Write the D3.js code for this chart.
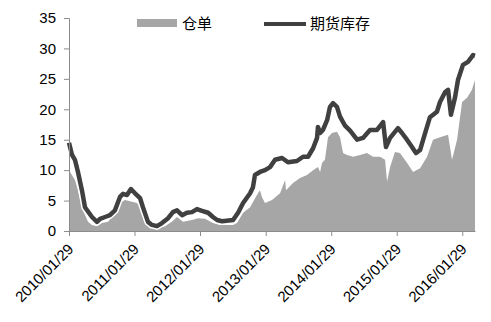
<!DOCTYPE html>
<html><head><meta charset="utf-8">
<script src="https://cdn.jsdelivr.net/npm/d3@7"></script>
<style>body{margin:0;background:#fff}svg{display:block}</style>
</head><body><svg id="c" width="491" height="322"></svg>
<script>
const seriesNames = ["仓单", "期货库存"];
const yTicks = [0, 5, 10, 15, 20, 25, 30, 35];
const xTickLabels = ["2010/01/29","2011/01/29","2012/01/29","2013/01/29","2014/01/29","2015/01/29","2016/01/29"];

const futuresDates = ["2010-01-29","2010-02-15","2010-03-03","2010-03-20","2010-04-11","2010-04-28","2010-06-06","2010-07-04","2010-07-21","2010-08-18","2010-09-14","2010-10-12","2010-11-09","2010-11-26","2010-12-18","2011-01-09","2011-02-01","2011-03-01","2011-03-17","2011-04-14","2011-05-06","2011-06-03","2011-07-01","2011-08-04","2011-08-31","2011-09-23","2011-10-21","2011-11-17","2011-12-15","2012-01-12","2012-02-09","2012-03-14","2012-04-10","2012-05-03","2012-05-31","2012-07-31","2012-08-28","2012-09-25","2012-11-03","2012-11-19","2012-11-30","2012-12-28","2013-01-25","2013-02-22","2013-03-22","2013-04-30","2013-06-02","2013-07-22","2013-08-25","2013-09-22","2013-10-20","2013-11-11","2013-11-16","2013-11-28","2013-12-14","2014-01-06","2014-01-22","2014-02-08","2014-03-02","2014-03-19","2014-04-16","2014-05-14","2014-06-22","2014-07-25","2014-09-02","2014-10-11","2014-11-14","2014-11-30","2014-12-23","2015-02-05","2015-02-27","2015-03-27","2015-04-24","2015-05-16","2015-06-08","2015-07-06","2015-08-02","2015-09-10","2015-09-27","2015-10-25","2015-11-11","2015-11-27","2015-12-20","2016-01-05","2016-02-02","2016-03-01","2016-03-29","2016-04-09"];
const futuresValues = [14.5,12.5,11.7,9.7,6.7,3.9,2.3,1.5,2.0,2.3,2.6,3.4,5.6,6.1,5.9,6.9,6.2,5.4,3.9,1.5,1.0,0.8,1.3,2.1,3.1,3.4,2.6,3.0,3.1,3.6,3.3,3.0,2.3,1.8,1.6,1.8,3.0,4.6,6.2,7.2,9.2,9.7,10.0,10.5,11.7,12.0,11.3,11.5,12.2,12.2,13.6,15.3,17.1,16.1,16.6,18.2,20.4,21.0,20.4,18.8,17.3,16.5,15.0,15.3,16.6,16.6,17.9,13.8,15.3,16.9,16.1,15.0,13.8,12.8,13.3,16.1,18.7,19.6,21.2,22.8,23.2,19.1,22.0,24.8,27.3,27.8,28.9,28.8];

const receiptDates = ["2010-01-29","2010-03-03","2010-03-20","2010-04-16","2010-05-15","2010-06-06","2010-07-04","2010-08-01","2010-09-04","2010-10-12","2010-11-09","2010-12-07","2011-01-15","2011-02-12","2011-03-12","2011-04-09","2011-05-06","2011-06-08","2011-07-18","2011-08-25","2011-09-23","2011-10-26","2011-12-15","2012-01-18","2012-02-26","2012-04-10","2012-05-19","2012-07-31","2012-08-22","2012-09-25","2012-11-03","2012-12-11","2012-12-28","2013-01-08","2013-01-25","2013-03-05","2013-04-19","2013-05-17","2013-05-22","2013-06-30","2013-08-08","2013-09-16","2013-10-20","2013-11-16","2013-11-28","2013-12-09","2013-12-25","2014-01-11","2014-02-02","2014-03-02","2014-03-19","2014-04-05","2014-04-27","2014-05-31","2014-07-08","2014-08-16","2014-09-19","2014-10-28","2014-11-25","2014-12-06","2014-12-23","2015-01-19","2015-02-16","2015-03-27","2015-04-30","2015-06-08","2015-07-17","2015-08-19","2015-09-27","2015-11-11","2015-12-03","2015-12-31","2016-01-28","2016-02-25","2016-03-23","2016-04-09"];
const receiptValues = [10.0,8.4,6.7,3.4,1.5,1.0,0.8,1.3,1.5,3.0,4.6,5.1,4.8,4.6,3.4,1.3,0.5,0.5,0.8,1.5,2.3,1.5,1.8,2.1,2.0,1.3,1.0,1.0,1.3,3.0,3.9,5.9,6.7,5.6,4.6,5.1,6.2,8.4,6.7,7.9,8.7,9.2,10.0,10.5,9.7,11.2,11.7,15.4,16.1,16.3,15.4,12.8,12.5,12.2,12.5,12.8,12.2,12.2,11.7,8.1,10.5,13.0,12.8,11.2,9.7,10.3,12.2,15.0,15.4,15.8,11.7,15.0,21.2,21.9,23.2,24.8];

const parse = d3.timeParse("%Y-%m-%d");
const fmt = d3.timeFormat("%Y/%m/%d");
const futures = futuresDates.map((d, i) => ({date: parse(d), value: futuresValues[i]}));
const receipts = receiptDates.map((d, i) => ({date: parse(d), value: receiptValues[i]}));
const tickDates = xTickLabels.map(s => d3.timeParse("%Y/%m/%d")(s));

const svg = d3.select("#c");
const x = d3.scaleTime().domain([parse("2010-01-29"), parse("2016-04-09")]).range([69, 475]);
const y = d3.scaleLinear().domain([0, 35]).range([231, 18]);
const font = "'Liberation Sans', Arial, sans-serif";
const axisColor = "#8c8c8c";

// area
svg.append("path").datum(receipts)
  .attr("fill", "#a6a6a6")
  .attr("d", d3.area().x(d => x(d.date)).y0(y(0)).y1(d => y(d.value)));

// line with white halo
const line = d3.line().x(d => x(d.date)).y(d => y(d.value));
svg.append("path").datum(futures).attr("fill", "none").attr("stroke", "#fff")
  .attr("stroke-width", 7.5).attr("stroke-linejoin", "round").attr("d", line);
svg.append("path").datum(futures).attr("fill", "none").attr("stroke", "#404040")
  .attr("stroke-width", 4.5).attr("stroke-linejoin", "round").attr("d", line);

// y axis
const yAxis = svg.append("g").attr("transform", "translate(69,0)")
  .call(d3.axisLeft(y).tickValues(yTicks).tickSize(5).tickPadding(8));
yAxis.select(".domain").attr("stroke", axisColor);
yAxis.selectAll(".tick line").attr("stroke", axisColor);
yAxis.selectAll("text").attr("fill", "#000").style("font-family", font).style("font-size", "15px");

// x axis
const xAxis = svg.append("g").attr("transform", "translate(0,231)")
  .call(d3.axisBottom(x).tickValues(tickDates).tickFormat(fmt).tickSize(5).tickSizeOuter(0));
xAxis.select(".domain").attr("stroke", axisColor);
xAxis.selectAll(".tick line").attr("stroke", axisColor);
xAxis.selectAll("text")
  .attr("fill", "#000").style("font-family", font).style("font-size", "15px")
  .attr("text-anchor", "end").attr("dy", null).attr("y", 0)
  .attr("transform", "translate(5,19) rotate(-45)");

// legend
const lg = svg.append("g");
lg.append("rect").attr("x", 137).attr("y", 19).attr("width", 40).attr("height", 8).attr("fill", "#a6a6a6");
lg.append("text").attr("x", 182).attr("y", 29).text(seriesNames[0])
  .style("font-family", "'Noto Sans CJK SC', sans-serif").style("font-size", "15px");
lg.append("line").attr("x1", 264).attr("x2", 306).attr("y1", 24).attr("y2", 24)
  .attr("stroke", "#404040").attr("stroke-width", 4);
lg.append("text").attr("x", 310).attr("y", 29).text(seriesNames[1])
  .style("font-family", "'Noto Sans CJK SC', sans-serif").style("font-size", "15px");
</script></body></html>
